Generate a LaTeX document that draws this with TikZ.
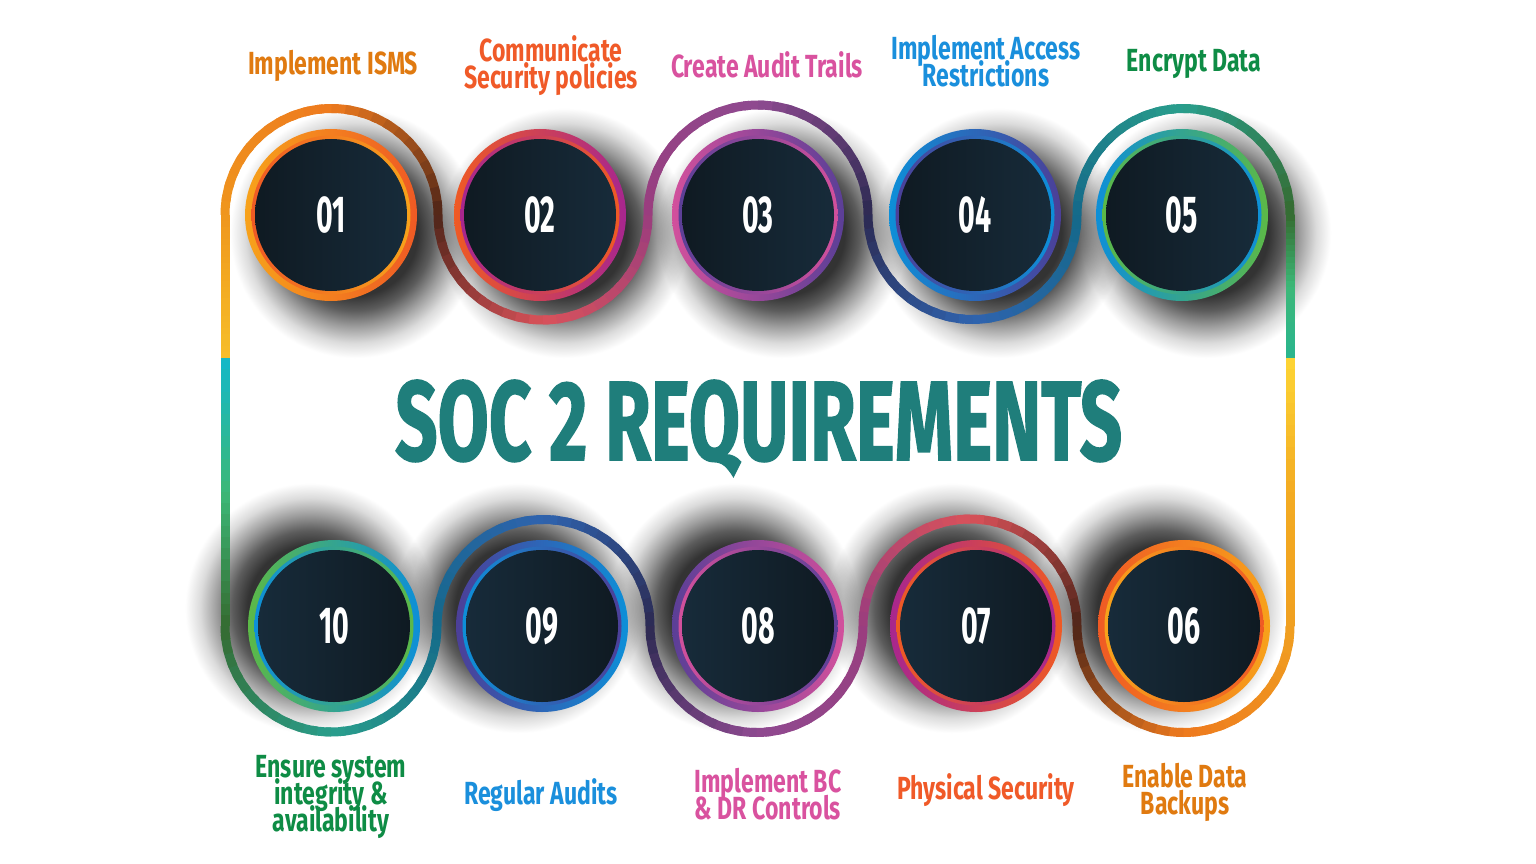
\documentclass[tikz,border=0pt]{standalone}
\usepackage{fontspec}
\usepackage{graphicx}
\newfontfamily\labfont{Fira Sans}[FakeStretch=0.72]
\newfontfamily\numfont{Fira Sans}[FakeStretch=0.55]
\newfontfamily\ttlfont{Fira Sans}[FakeBold=1.5]
\newcommand\tightlines{\lineskiplimit=-60pt\relax\lineskip=0pt\relax}
% wave colours
\definecolor{wOrg}{HTML}{EF961E}
\definecolor{wOrgMid}{HTML}{EE7A1E}
\definecolor{wBrown}{HTML}{4F2518}
\definecolor{wRed}{HTML}{D9525A}
\definecolor{wMag}{HTML}{9A3D7E}
\definecolor{wPur}{HTML}{8E4A90}
\definecolor{wNavy}{HTML}{2C2A52}
\definecolor{wBlue}{HTML}{2F63AE}
\definecolor{wTealBlue}{HTML}{14698A}
\definecolor{wTealGreen}{HTML}{2A9E8C}
\definecolor{wDkGreen}{HTML}{356B30}
\definecolor{wGreen}{HTML}{3CB878}
\definecolor{wTeal}{HTML}{2AB58E}
\definecolor{wCyan}{HTML}{13B8C8}
\definecolor{wYel}{HTML}{F6BE2A}
\definecolor{wYelB}{HTML}{FDD535}
\definecolor{wOrgY}{HTML}{F0A020}
\definecolor{wOrgM}{HTML}{F3AB22}
% ring colours
\definecolor{rYel}{HTML}{F7A21B}
\definecolor{rOrg}{HTML}{EF5A24}
\definecolor{rMag}{HTML}{A8268E}
\definecolor{rPink}{HTML}{D2509C}
\definecolor{rPur}{HTML}{5B3F97}
\definecolor{rBlue}{HTML}{0D8FD8}
\definecolor{rInd}{HTML}{4C3F98}
\definecolor{rGreen}{HTML}{5CB947}
\definecolor{discA}{HTML}{0F1A22}
\definecolor{discB}{HTML}{172B3A}
% label colours
\definecolor{lOrange}{HTML}{E07A10}
\definecolor{lRed}{HTML}{F05A28}
\definecolor{lPink}{HTML}{D9529F}
\definecolor{lBlue}{HTML}{1A8FDC}
\definecolor{lGreen}{HTML}{0E8C45}
\definecolor{titleTeal}{HTML}{1F7E7B}
% shadow shading
\colorlet{shA}{black!80}
\colorlet{shB}{black!64}
\colorlet{shC}{black!38}
\colorlet{shD}{black!14}
\pgfdeclareradialshading{shadowglow}{\pgfpointorigin}{color(0bp)=(shA); color(12.5bp)=(shA); color(15.5bp)=(shB); color(18.75bp)=(shC); color(22bp)=(shD); color(25bp)=(white); color(50bp)=(white)}

\newcommand\pickwavecolor[4]{%
  \pgfmathtruncatemacro\wt{round((#1+0.5)*200/24)}%
  \ifnum\wt<100 \colorlet{segc}{#3!\wt!#2}\else\pgfmathtruncatemacro\wu{\wt-100}\colorlet{segc}{#4!\wu!#3}\fi}
\newcommand\wavearc[8]{%
  \foreach \k in {0,...,23}{%
    \pgfmathsetmacro\wa{#4+(#5-#4)*\k/24}%
    \pgfmathsetmacro\wb{#4+(#5-#4)*min(\k+1.4,24)/24}%
    \pickwavecolor{\k}{#6}{#7}{#8}%
    \draw[wave,segc] plot[domain=\wa:\wb,samples=4] ({#1+#3*cos(\x)},{#2+#3*sin(\x)});
  }}
\newcommand\waveline[6]{%
  \foreach \k in {0,...,23}{%
    \pgfmathsetmacro\wa{#2+(#3-#2)*\k/24}%
    \pgfmathsetmacro\wb{#2+(#3-#2)*min(\k+1.3,24)/24}%
    \pickwavecolor{\k}{#4}{#5}{#6}%
    \draw[wave,segc] (#1,\wa) -- (#1,\wb);
  }}
\newcommand\castshadow[2]{%
  \shade[shading=shadowglow] (#1,#2) circle (125);}
\newcommand\badgering[4]{%
  \shade[left color=#3, right color=#4, even odd rule] (#1,#2) circle (86) circle (79);
  \shade[left color=#4, right color=#3, even odd rule] (#1,#2) circle (79.5) circle (75.5);}

\tikzset{
  wave/.style={line width=9, line cap=butt},
  badge/.style={circle, minimum size=152, inner sep=0, text=white,
    font=\numfont\bfseries\fontsize{52}{52}\selectfont},
  topdisc/.style={left color=discA, right color=discB},
  botdisc/.style={left color=discB, right color=discA},
  lbl/.style={align=center, inner sep=0,
    font={\labfont\bfseries\fontsize{32}{27}\selectfont\tightlines}},
}

\begin{document}
\begin{tikzpicture}[x=1pt,y=-1pt]
\fill[white] (0,0) rectangle (1536,864);
\useasboundingbox (0,0) rectangle (1536,864);

% shadows
\begin{scope}[blend mode=multiply]
\foreach \cx in {331,540,758,975,1182}{\castshadow{\cx+24}{215+18}}
\foreach \cx in {334,542,758,976,1184}{\castshadow{\cx-24}{626-18}}
\end{scope}

% wave loop
\wavearc{331.5}{215}{106.5}{180}{360}{wOrg}{wOrgMid}{wBrown}
\wavearc{543}{215}{105}{180}{0}{wBrown}{wRed}{wMag}
\wavearc{758}{215}{110}{180}{360}{wMag}{wPur}{wNavy}
\wavearc{972.5}{215}{104.5}{180}{0}{wNavy}{wBlue}{wTealBlue}
\wavearc{1183.5}{215}{106.5}{180}{360}{wTealBlue}{wTealGreen}{wDkGreen}
\waveline{1290}{215}{358}{wDkGreen}{wGreen}{wTeal}
\waveline{1290}{358}{626}{wYelB}{wOrgM}{wOrgY}
\wavearc{1183.5}{626}{106.5}{0}{180}{wOrgY}{wOrgMid}{wBrown}
\wavearc{970}{626}{107}{360}{180}{wBrown}{wRed}{wMag}
\wavearc{756.5}{626}{106.5}{0}{180}{wMag}{wPur}{wNavy}
\wavearc{543.5}{626}{106.5}{360}{180}{wNavy}{wBlue}{wTealBlue}
\wavearc{331}{626}{106}{0}{180}{wTealBlue}{wTealGreen}{wDkGreen}
\waveline{225}{626}{358}{wDkGreen}{wGreen}{wCyan}
\waveline{225}{358}{215}{wYel}{wOrgM}{wOrg}

% badges top
\badgering{331}{215}{rYel}{rOrg}
\node[badge,topdisc] (n01) at (331,215) {01};
\badgering{540}{215}{rOrg}{rMag}
\node[badge,topdisc] (n02) at (540,215) {02};
\badgering{758}{215}{rPink}{rPur}
\node[badge,topdisc] (n03) at (758,215) {03};
\badgering{975}{215}{rBlue}{rInd}
\node[badge,topdisc] (n04) at (975,215) {04};
\badgering{1182}{215}{rBlue}{rGreen}
\node[badge,topdisc] (n05) at (1182,215) {05};
% badges bottom
\badgering{334}{626}{rGreen}{rBlue}
\node[badge,botdisc] (n10) at (334,626) {10};
\badgering{542}{626}{rInd}{rBlue}
\node[badge,botdisc] (n09) at (542,626) {09};
\badgering{758}{626}{rPur}{rPink}
\node[badge,botdisc] (n08) at (758,626) {08};
\badgering{976}{626}{rMag}{rOrg}
\node[badge,botdisc] (n07) at (976,626) {07};
\badgering{1184}{626}{rOrg}{rYel}
\node[badge,botdisc] (n06) at (1184,626) {06};

% labels
\node[lbl,text=lOrange] (t01) at (333,66) {Implement ISMS};
\node[lbl,text=lRed] (t02) at (551,66) {Communicate\\Security policies};
\node[lbl,text=lPink] (t03) at (767,65) {Create Audit Trails};
\node[lbl,text=lBlue] (t04) at (986,61) {Implement Access\\Restrictions};
\node[lbl,text=lGreen] (t05) at (1194,64) {Encrypt Data};
\node[lbl,text=lGreen] (t10) at (331,797) {Ensure system\\integrity \&\\availability};
\node[lbl,text=lBlue] (t09) at (541,795) {Regular Audits};
\node[lbl,text=lPink] (t08) at (768,794) {Implement BC\\\& DR Controls};
\node[lbl,text=lRed] (t07) at (986,790) {Physical Security};
\node[lbl,text=lOrange] (t06) at (1185,792) {Enable Data\\Backups};

% title
\node[anchor=base west, inner sep=0, text=titleTeal] (title) at (395,460)
  {\resizebox{727pt}{80pt}{\ttlfont\bfseries\fontsize{100}{100}\selectfont SOC 2 REQUIREMENTS}};
\end{tikzpicture}
\end{document}
